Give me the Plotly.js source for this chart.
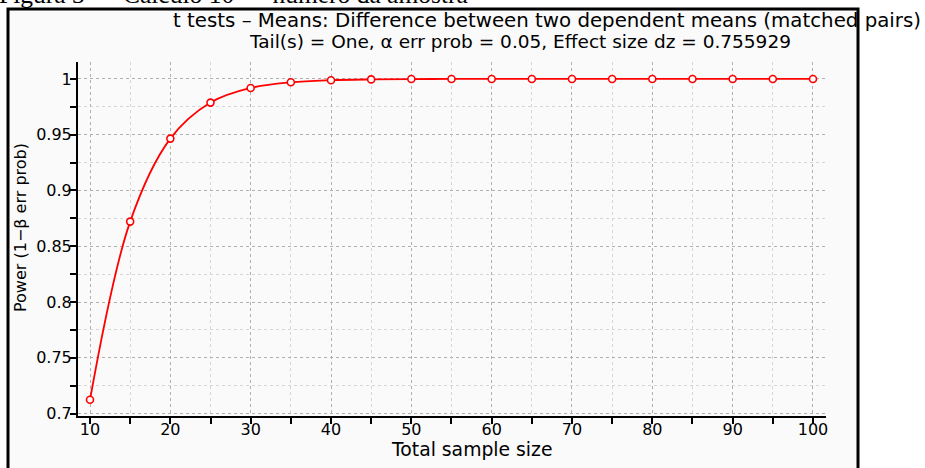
<!DOCTYPE html>
<html>
<head>
<meta charset="utf-8">
<script src="https://cdn.plot.ly/plotly-3.0.1.min.js"></script>
<style>
html,body{margin:0;padding:0;background:#ffffff;}
#chart{width:925px;height:468px;}
</style>
</head>
<body>
<div id="chart"></div>
<script>
// ---- data ----
var sampleSize = [10, 15, 20, 25, 30, 35, 40, 45, 50, 55, 60, 65, 70, 75, 80, 85, 90, 95, 100];
var power = [0.7124, 0.8721, 0.9465, 0.9788, 0.9919, 0.9970, 0.9989, 0.9996, 0.9999, 1.0, 1.0, 1.0, 1.0, 1.0, 1.0, 1.0, 1.0, 1.0, 1.0];
var captionText = "Figura 3 \u2014 Cálculo 10 \u2014 número da amostra";
var titleLine1 = "t tests \u2013 Means: Difference between two dependent means (matched pairs)";
var titleLine2 = "Tail(s) = One, \u03b1 err prob = 0.05, Effect size dz = 0.755929";
var xTitle = "Total sample size";
var yTitle = "Power (1\u2212\u03b2 err prob)";

// ---- geometry (pixels) ----
var W = 925, H = 468;
var L = 78, R = 826, T = 62, B = 416;
function px(x){ return (x - L) / (R - L); }
function py(y){ return (B - y) / (B - T); }

var font = "DejaVu Sans, Verdana, sans-serif";

var trace = {
  x: sampleSize, y: power, type: 'scatter', mode: 'lines+markers',
  line: {color: '#ff0000', width: 1.8, shape: 'spline', smoothing: 1},
  marker: {size: 7, color: '#ffffff', line: {color: '#ff0000', width: 1.6}},
  hoverinfo: 'x+y'
};

var axisCommon = {
  showline: true, linecolor: '#000000', linewidth: 2, mirror: false,
  ticks: 'outside', ticklen: 6, tickwidth: 1.5, tickcolor: '#000000',
  showgrid: true, gridcolor: '#b0b0b0', gridwidth: 1, griddash: 'dot',
  zeroline: false,
  tickfont: {family: font, size: 16, color: '#000000'}
};

var layout = {
  width: W, height: H,
  margin: {l: L, r: W - R, t: T, b: H - B, pad: 0},
  paper_bgcolor: '#ffffff',
  plot_bgcolor: '#f0f0f0',
  showlegend: false,
  xaxis: Object.assign({}, axisCommon, {
    range: [8.506, 101.62], tick0: 10, dtick: 10, ticklabelstandoff: -8,
    minor: {dtick: 5, tick0: 5, ticks: 'outside', ticklen: 6, tickwidth: 1.5, tickcolor: '#000000',
            showgrid: true, gridcolor: '#d6d6d6', gridwidth: 1, griddash: 'dot'}
  }),
  yaxis: Object.assign({}, axisCommon, {
    range: [0.6978, 1.0152], tick0: 0.7, dtick: 0.05, ticklabelstandoff: -5,
    minor: {dtick: 0.025, tick0: 0.7, ticks: 'outside', ticklen: 6, tickwidth: 1.5, tickcolor: '#000000',
            showgrid: true, gridcolor: '#d6d6d6', gridwidth: 1, griddash: 'dot'}
  }),
  shapes: [{
    type: 'rect', xref: 'paper', yref: 'paper', layer: 'below',
    x0: px(8), x1: px(858), y0: py(490), y1: py(9),
    fillcolor: '#fafafa', line: {color: '#000000', width: 3}
  }],
  annotations: [
    {text: captionText, xref: 'paper', yref: 'paper', x: px(-2), y: py(4), xanchor: 'left', yanchor: 'bottom',
     showarrow: false, borderpad: 0, font: {family: 'Liberation Serif, Times New Roman, serif', size: 25.5, color: '#000000'}, yshift: -6},
    {text: titleLine1, xref: 'paper', yref: 'paper', x: px(547), y: py(20.5), xanchor: 'center', yanchor: 'middle',
     showarrow: false, borderpad: 0, font: {family: font, size: 19.8, color: '#000000'}},
    {text: titleLine2, xref: 'paper', yref: 'paper', x: px(520), y: py(41.5), xanchor: 'center', yanchor: 'middle',
     showarrow: false, borderpad: 0, font: {family: font, size: 18.5, color: '#000000'}},
    {text: xTitle, xref: 'paper', yref: 'paper', x: px(472), y: py(449), xanchor: 'center', yanchor: 'middle',
     showarrow: false, borderpad: 0, font: {family: font, size: 18.8, color: '#000000'}},
    {text: yTitle, xref: 'paper', yref: 'paper', x: px(20), y: py(228), xanchor: 'center', yanchor: 'middle',
     textangle: -90, showarrow: false, borderpad: 0, font: {family: font, size: 16, color: '#000000'}}
  ]
};

Plotly.newPlot('chart', [trace], layout, {displayModeBar: false, staticPlot: false});
</script>
</body>
</html>
